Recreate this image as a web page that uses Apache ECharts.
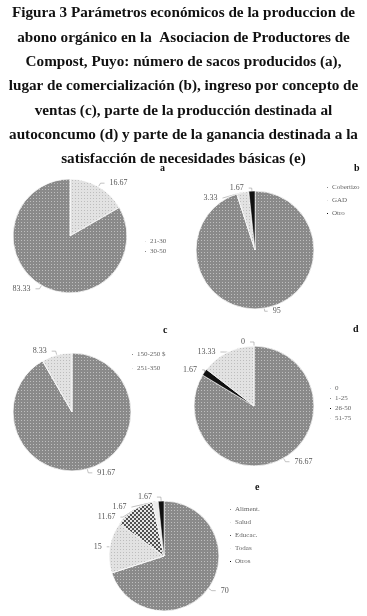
<!DOCTYPE html>
<html><head><meta charset="utf-8">
<script src="https://cdn.jsdelivr.net/npm/echarts@6/dist/echarts.min.js"></script>
<style>html,body{margin:0;padding:0;background:#fff}#c{width:367px;height:616px}</style>
</head><body><div id="c"></div>
<script>
var titleLines = [
  "Figura 3 Parámetros económicos de la produccion de",
  "abono orgánico en la  Asociacion de Productores de",
  "Compost, Puyo: número de sacos producidos (a),",
  "lugar de comercialización (b), ingreso por concepto de",
  "ventas (c), parte de la producción destinada al",
  "autoconcumo (d) y parte de la ganancia destinada a la",
  "satisfacción de necesidades básicas (e)"
];
var catsA = ["21-30", "30-50"];
var valsA = [16.67, 83.33];
var catsB = ["Cobertizo", "GAD", "Otro"];
var valsB = [95, 3.33, 1.67];
var catsC = ["150-250 $", "251-350"];
var valsC = [91.67, 8.33];
var catsD = ["0", "1-25", "26-50", "51-75"];
var valsD = [0, 76.67, 1.67, 13.33];
var catsE = ["Aliment.", "Salud", "Educac.", "Todas", "Otros"];
var valsE = [70, 15, 11.67, 1.67, 1.67];
var panelLetters = ["a", "b", "c", "d", "e"];

var DARK = { c: '#8a8a8a', d: { symbol: 'rect', symbolSize: 1, dashArrayX: [1, 2], dashArrayY: [1, 2], color: 'rgba(255,255,255,0.45)' } };
var LIGHT = { c: '#e2e2e2', d: { symbol: 'rect', symbolSize: 1, dashArrayX: [1, 2], dashArrayY: [1, 2], color: 'rgba(120,120,120,0.35)' } };
var BLACK = { c: '#111111', d: null };
var CHECK = { c: '#505050', d: { symbol: 'rect', symbolSize: 1, dashArrayX: [[2, 2], [0, 2, 2, 0]], dashArrayY: [2, 0], color: 'rgba(255,255,255,0.85)' } };
var PALE = { c: '#ececec', d: null };
var BLUE = { c: '#c8d0e0', d: null };
var colorsA = [LIGHT, DARK];
var colorsB = [DARK, LIGHT, BLACK];
var colorsC = [DARK, LIGHT];
var colorsD = [BLUE, DARK, BLACK, LIGHT];
var colorsE = [DARK, LIGHT, CHECK, PALE, BLACK];

var serif = "'Liberation Serif', 'DejaVu Serif', serif";
function mk(cats, vals, cols) {
  return cats.map(function (c, i) {
    var st = { color: cols[i].c };
    if (cols[i].d) st.decal = cols[i].d;
    return { name: c, value: vals[i], itemStyle: st };
  });
}
function pie(cats, vals, cols, center, r, ll) {
  return {
    type: 'pie', center: center, radius: r, startAngle: 90, clockwise: true,
    avoidLabelOverlap: true, animation: false, minShowLabelAngle: 0,
    data: mk(cats, vals, cols),
    itemStyle: { borderColor: '#fff', borderWidth: 0.5 },
    label: { show: true, position: 'outside', formatter: function (p) { return String(p.value); },
      fontFamily: serif, fontSize: 8, color: '#555' },
    labelLine: { show: true, length: ll || 4, length2: ll || 4, lineStyle: { color: '#999', width: 0.6 } }
  };
}
function legend(cats, left, top, gap) {
  return {
    data: cats, left: left, top: top, orient: 'vertical', itemGap: gap,
    itemWidth: 3, itemHeight: 3, icon: 'rect', selectedMode: false,
    textStyle: { fontFamily: serif, fontSize: 7, color: '#666', padding: [0, 0, 0, -2] }
  };
}
var letterPos = [[160, 163], [354, 163], [163, 325], [353, 324], [255, 482]];
var graphics = titleLines.map(function (t, i) {
  return { type: 'text', x: 183.5, y: 13.5 + i * 24.3, style: { text: t, x: 0, y: 0, align: 'center', verticalAlign: 'middle',
    font: "bold 15.2px " + serif, fill: '#111' } };
});
panelLetters.forEach(function (l, i) {
  graphics.push({ type: 'text', x: letterPos[i][0], y: letterPos[i][1], style: { text: l, font: 'bold 10px ' + serif, fill: '#111' } });
});

var chart = echarts.init(document.getElementById('c'), null, { renderer: 'canvas' });
chart.setOption({
  backgroundColor: '#fff',
  graphic: graphics,
  legend: [
    legend(catsA, 138, 233, 3),
    legend(catsB, 320, 179, 6),
    legend(catsC, 125, 346, 7),
    legend(catsD, 323, 380, 3),
    legend(catsE, 223, 501, 6)
  ],
  series: [
    pie(catsA, valsA, colorsA, [70, 236], 57),
    pie(catsB, valsB, colorsB, [255, 250], 59, 3),
    pie(catsC, valsC, colorsC, [72, 412], 59),
    pie(catsD, valsD, colorsD, [254, 406], 60),
    pie(catsE, valsE, colorsE, [164, 556], 55)
  ]
});
</script></body></html>
